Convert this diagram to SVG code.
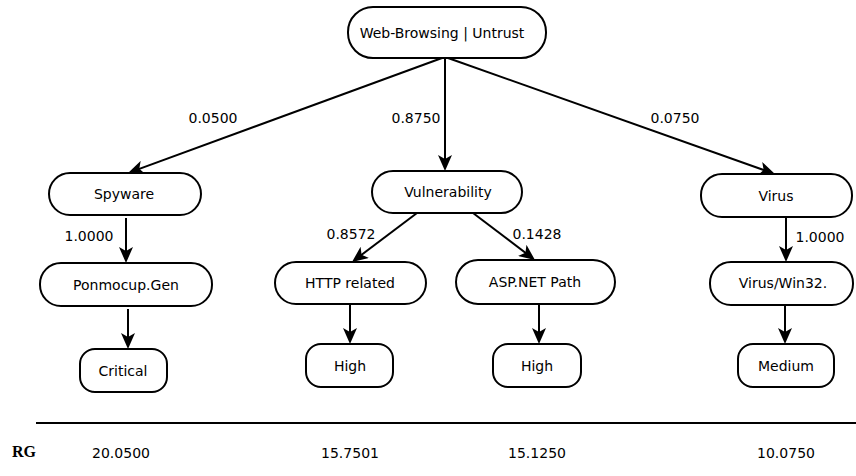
<svg xmlns="http://www.w3.org/2000/svg" width="856" height="476" viewBox="0 0 856 476">
<style>
.n{fill:#fff;stroke:#000;stroke-width:2}
.t{font-family:"DejaVu Sans",Verdana,sans-serif;font-size:14px;fill:#000;text-anchor:middle}
.l{font-family:"DejaVu Sans",Verdana,sans-serif;font-size:14px;fill:#000;text-anchor:middle}
.e{fill:none;stroke:#000;stroke-width:2;marker-end:url(#ah)}
.rg{font-family:"Liberation Serif","Times New Roman",serif;font-size:16px;font-weight:bold;fill:#000}
</style>
<defs>
<marker id="ah" viewBox="0 0 16 14" refX="12" refY="7" markerWidth="16" markerHeight="14" markerUnits="userSpaceOnUse" orient="auto">
<path d="M0,0 L16,7 L0,14 L4,7 z" fill="#000"/>
</marker>
</defs>
<g id="connectors">
<line class="e" x1="442" y1="58" x2="131.8" y2="171.6"/>
<line class="e" x1="445" y1="58" x2="445" y2="167"/>
<line class="e" x1="448" y1="58" x2="771.2" y2="172.7"/>
<line class="e" x1="417" y1="213" x2="355.2" y2="259.6"/>
<line class="e" x1="473" y1="213" x2="531.8" y2="257.6"/>
<line class="e" x1="126" y1="218" x2="126" y2="259"/>
<line class="e" x1="128" y1="309" x2="128" y2="345"/>
<line class="e" x1="350" y1="304" x2="350" y2="340"/>
<line class="e" x1="539" y1="304" x2="539" y2="340"/>
<line class="e" x1="786" y1="217" x2="786" y2="258"/>
<line class="e" x1="785" y1="305" x2="785" y2="340"/>
<text class="l" x="213" y="123">0.0500</text>
<text class="l" x="416" y="123">0.8750</text>
<text class="l" x="675" y="123">0.0750</text>
<text class="l" x="351" y="239">0.8572</text>
<text class="l" x="537" y="239">0.1428</text>
<text class="l" x="89" y="241">1.0000</text>
<text class="l" x="820" y="242">1.0000</text>
</g>
<g id="n-root"><rect class="n" x="348" y="7" width="198" height="51" rx="25"/><text class="t" x="442" y="38">Web-Browsing | Untrust</text></g>
<g id="n-spyware"><rect class="n" x="49" y="173" width="152" height="42" rx="21"/><text class="t" x="124" y="199">Spyware</text></g>
<g id="n-vuln"><rect class="n" x="372" y="171" width="150" height="42" rx="21"/><text class="t" x="448" y="197">Vulnerability</text></g>
<g id="n-virus"><rect class="n" x="701" y="174" width="151" height="43" rx="21"/><text class="t" x="776" y="201">Virus</text></g>
<g id="n-ponmocup"><rect class="n" x="40" y="263" width="172" height="43" rx="21"/><text class="t" x="126" y="290">Ponmocup.Gen</text></g>
<g id="n-http"><rect class="n" x="275" y="262" width="151" height="42" rx="21"/><text class="t" x="350" y="288">HTTP related</text></g>
<g id="n-asp"><rect class="n" x="456" y="260" width="159" height="44" rx="22"/><text class="t" x="535" y="287">ASP.NET Path</text></g>
<g id="n-win32"><rect class="n" x="710" y="262" width="143" height="43" rx="21"/><text class="t" x="783" y="288">Virus/Win32.</text></g>
<g id="n-critical"><rect class="n" x="80" y="349" width="87" height="43" rx="15"/><text class="t" x="123" y="376">Critical</text></g>
<g id="n-high1"><rect class="n" x="306" y="344" width="87" height="43" rx="15"/><text class="t" x="350" y="371">High</text></g>
<g id="n-high2"><rect class="n" x="493" y="344" width="88" height="43" rx="15"/><text class="t" x="537" y="371">High</text></g>
<g id="n-medium"><rect class="n" x="738" y="344" width="96" height="43" rx="15"/><text class="t" x="786" y="371">Medium</text></g>
<line x1="36" y1="423" x2="856" y2="423" stroke="#000" stroke-width="2"/>
<text class="rg" x="12" y="457">RG</text>
<text class="l" x="121" y="458">20.0500</text>
<text class="l" x="350" y="458">15.7501</text>
<text class="l" x="537" y="458">15.1250</text>
<text class="l" x="786" y="458">10.0750</text>
</svg>
